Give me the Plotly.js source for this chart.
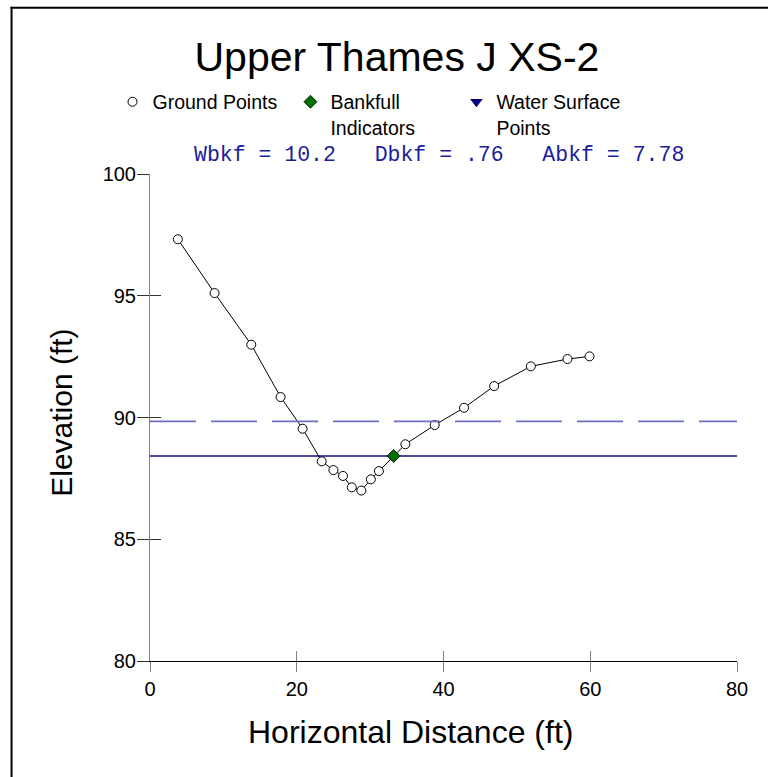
<!DOCTYPE html>
<html>
<head>
<meta charset="utf-8">
<script src="https://cdn.plot.ly/plotly-3.0.1.min.js"></script>
<style>
html,body{margin:0;padding:0;background:#fff;}
#chart{width:768px;height:777px;}
</style>
</head>
<body>
<div id="chart"></div>
<script>
// ---- data ----
const chartTitle = "Upper Thames J XS-2";
const xTitle = "Horizontal Distance (ft)";
const yTitle = "Elevation (ft)";
const distance  = [3.8, 8.8, 13.8, 17.8, 20.8, 23.4, 25.0, 26.3, 27.5, 28.8, 30.1, 31.2, 33.2, 34.8, 38.8, 42.8, 46.9, 51.9, 56.9, 59.9];
const elevation = [97.32, 95.11, 92.99, 90.84, 89.54, 88.20, 87.84, 87.60, 87.13, 87.00, 87.46, 87.80, 88.42, 88.90, 89.69, 90.40, 91.29, 92.10, 92.40, 92.51];
const bankfullX = [33.2];
const bankfullY = [88.42];
const waterX = [null];   // no water-surface points shown in the plot, legend entry only
const waterY = [null];
const bankfullElevation = 88.42;
const floodproneElevation = 89.84;
const xRange = [0, 80];
const yRange = [80, 100];
const xTicks = [0, 20, 40, 60, 80];
const yTicks = [80, 85, 90, 95, 100];
const statNames = ["Wbkf", "Dbkf", "Abkf"];
const statValues = ["10.2", ".76", "7.78"];

// ---- layout constants ----
const SANS = "Liberation Sans, Arial, sans-serif";
const MONO = "Liberation Mono, Courier New, monospace";
const L = 149.5, R = 736.7, T = 174, B = 661.5, W = 768, H = 777;
const PW = R - L, PH = B - T;
const px2x = p => (p - L) / PW;
const py2y = p => 1 + (T - p) / PH;

const traces = [
  { // flood-prone (dashed)
    x: xRange, y: xRange.map(() => floodproneElevation),
    xaxis: 'x2', yaxis: 'y2',
    mode: 'lines', line: {color: '#6e6ec0', width: 1.6, dash: '46px,15px'},
    showlegend: false, hoverinfo: 'skip'
  },
  { // bankfull stage (solid)
    x: xRange, y: xRange.map(() => bankfullElevation),
    mode: 'lines', line: {color: '#0c0c86', width: 1.5},
    showlegend: false, hoverinfo: 'skip'
  },
  { // ground line
    x: distance, y: elevation, mode: 'lines',
    line: {color: '#000', width: 1}, showlegend: false, hoverinfo: 'skip'
  },
  { // ground points
    x: distance, y: elevation, mode: 'markers', name: 'Ground Points',
    marker: {symbol: 'circle', size: 9, color: '#fff', line: {color: '#000', width: 1}},
    legend: 'legend'
  },
  {
    x: bankfullX, y: bankfullY, mode: 'markers', name: 'Bankfull<br>Indicators',
    marker: {symbol: 'diamond', size: 10, color: '#007000', line: {color: '#000', width: 0.8}},
    legend: 'legend2'
  },
  {
    x: waterX, y: waterY, mode: 'markers', name: 'Water Surface<br>Points',
    marker: {symbol: 'triangle-down', size: 11, color: '#000080', line: {width: 0}},
    legend: 'legend3'
  }
];

function legendAt(xp, yp) {
  return {
    x: px2x(xp), xanchor: 'left', xref: 'paper',
    y: py2y(yp), yanchor: 'top', yref: 'paper',
    bgcolor: 'rgba(0,0,0,0)', borderwidth: 0,
    font: {family: SANS, size: 19.5, color: '#000'},
    valign: 'top', itemwidth: 30, orientation: 'v'
  };
}

const statText = statNames.map((n, i) => n + " = " + statValues[i]).join("&nbsp;&nbsp;&nbsp;");

const layout = {
  width: W, height: H,
  paper_bgcolor: '#fff', plot_bgcolor: '#fff',
  margin: {l: L, r: W - R, t: T, b: H - B, pad: 0},
  font: {family: SANS, color: '#000'},
  title: {
    text: chartTitle,
    font: {family: SANS, size: 41, color: '#000'},
    xref: 'paper', x: px2x(396.5), xanchor: 'center',
    yref: 'container', y: 1 - 57 / H, yanchor: 'middle'
  },
  xaxis: {
    range: xRange, tickvals: xTicks, ticks: 'outside', ticklen: 10, tickwidth: 1,
    tickcolor: '#808080', showline: true, linecolor: '#000', linewidth: 1,
    showgrid: false, zeroline: false, tickfont: {family: SANS, size: 20, color: '#000'},
    automargin: false, fixedrange: true
  },
  yaxis: {
    range: yRange, tickvals: yTicks, ticks: 'outside', ticklen: 12, tickwidth: 1,
    tickcolor: '#333', showline: true, linecolor: '#808080', linewidth: 1,
    showgrid: false, zeroline: false, tickfont: {family: SANS, size: 20, color: '#000'},
    ticklabelstandoff: -3,
    automargin: false, fixedrange: true
  },
  xaxis2: {
    overlaying: 'x', anchor: 'y2', side: 'bottom', range: xRange, tickvals: xTicks,
    ticks: 'inside', ticklen: 10, tickwidth: 1, tickcolor: '#808080',
    showticklabels: false, showline: false, showgrid: false, zeroline: false, fixedrange: true
  },
  yaxis2: {
    overlaying: 'y', anchor: 'x2', side: 'left', range: yRange, tickvals: yTicks,
    ticks: 'inside', ticklen: 11, tickwidth: 1, tickcolor: '#333',
    showticklabels: false, showline: false, showgrid: false, zeroline: false, fixedrange: true
  },
  legend: legendAt(112, 82.5),
  legend2: legendAt(290, 82.5),
  legend3: legendAt(456, 82.5),
  annotations: [
    {
      text: statText, showarrow: false,
      xref: 'paper', x: px2x(439), xanchor: 'center',
      yref: 'paper', y: py2y(155), yanchor: 'middle',
      font: {family: MONO, size: 21.5, color: '#1c1c9c'}
    },
    {
      text: xTitle, showarrow: false,
      xref: 'paper', x: px2x(410.5), xanchor: 'center',
      yref: 'paper', y: py2y(733), yanchor: 'middle',
      font: {family: SANS, size: 32, color: '#000'}
    },
    {
      text: yTitle, showarrow: false, textangle: -90,
      xref: 'paper', x: px2x(61), xanchor: 'center',
      yref: 'paper', y: py2y(413.5), yanchor: 'middle',
      font: {family: SANS, size: 30, color: '#000'}
    }
  ],
  shapes: [
    { // frame: left edge
      type: 'line', xref: 'paper', yref: 'paper',
      x0: px2x(11), x1: px2x(11), y0: py2y(H + 10), y1: py2y(6.5),
      line: {color: '#000', width: 2}, layer: 'below'
    },
    { // frame: top edge
      type: 'line', xref: 'paper', yref: 'paper',
      x0: px2x(10), x1: px2x(W + 10), y0: py2y(7.5), y1: py2y(7.5),
      line: {color: '#000', width: 2}, layer: 'below'
    }
  ],
  showlegend: true,
  hovermode: false
};

Plotly.newPlot('chart', traces, layout, {displayModeBar: false, staticPlot: true});
</script>
</body>
</html>
